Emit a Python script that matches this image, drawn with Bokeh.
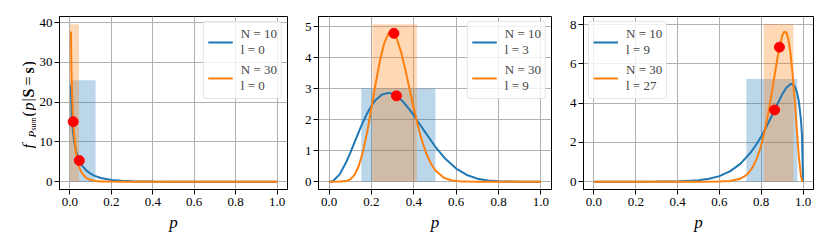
import math
from bokeh.plotting import figure
from bokeh.models import Range1d, FixedTicker, PrintfTickFormatter, Legend, LegendItem
from bokeh.core.properties import value
from bokeh.layouts import row
from bokeh.embed import file_html
from bokeh.resources import INLINE

BLUE = "#1f77b4"
ORANGE = "#ff7f0e"
FONT = "Liberation Serif"

# ---------------- data ----------------
x_ticks = [0.0, 0.2, 0.4, 0.6, 0.8, 1.0]
y_ticks = [[0, 10, 20, 30, 40], [0, 1, 2, 3, 4, 5], [0, 2, 4, 6, 8]]

legend_labels = [
    ["N = 10\nl = 0", "N = 30\nl = 0"],
    ["N = 10\nl = 3", "N = 30\nl = 9"],
    ["N = 10\nl = 9", "N = 30\nl = 27"],
]
legend_loc = ["top_right", "top_right", "top_left"]

# panel 1 (N=10,l=0 / N=30,l=0)
p1_blue_x = [0.005, 0.0075, 0.01, 0.015, 0.02, 0.03, 0.04, 0.05, 0.06, 0.08, 0.10, 0.12, 0.15, 0.20,
             0.25, 0.30, 0.35, 0.40, 0.50, 0.60, 0.70, 1.00]
p1_blue_y = [24.3, 19.35, 16.3, 12.7, 10.4, 7.69, 6.0, 4.84, 3.97, 2.78, 1.99, 1.45, 0.92, 0.43,
             0.20, 0.093, 0.041, 0.017, 0.0025, 0.0003, 0.0, 0.0]
p1_orange_x = [0.005, 0.0075, 0.01, 0.015, 0.02, 0.03, 0.04, 0.05, 0.06, 0.08, 0.10, 0.12, 0.15,
               0.20, 0.25, 0.30, 1.00]
p1_orange_y = [37.8, 28.6, 23.0, 16.1, 12.0, 7.18, 4.56, 2.98, 1.98, 0.90, 0.42, 0.19, 0.061,
               0.0086, 0.0011, 0.0001, 0.0]

# panel 2 (N=10,l=3 / N=30,l=9)
p2_blue_x = [0.0, 0.01, 0.02, 0.05, 0.08, 0.10, 0.12, 0.15, 0.18, 0.20, 0.22, 0.25, 0.28, 0.30,
             0.32, 0.35, 0.38, 0.40, 0.45, 0.50, 0.55, 0.60, 0.65, 0.70, 0.75, 0.80, 0.85, 0.90, 1.0]
p2_blue_y = [0.0, 0.0055, 0.029, 0.234, 0.614, 0.930, 1.268, 1.768, 2.208, 2.448, 2.635, 2.810,
             2.862, 2.831, 2.755, 2.572, 2.323, 2.134, 1.627, 1.140, 0.729, 0.421, 0.216, 0.096,
             0.035, 0.0096, 0.0017, 0.0002, 0.0]
p2_orange_x = [0.0, 0.05, 0.08, 0.10, 0.12, 0.14, 0.16, 0.18, 0.20, 0.22, 0.24, 0.26, 0.28, 0.29,
               0.30, 0.32, 0.34, 0.36, 0.38, 0.40, 0.42, 0.44, 0.46, 0.48, 0.50, 0.54, 0.58, 0.62,
               0.66, 0.70, 1.0]
p2_orange_y = [0.0, 0.0006, 0.017, 0.073, 0.217, 0.503, 0.967, 1.605, 2.369, 3.169, 3.898, 4.456,
               4.771, 4.826, 4.814, 4.599, 4.175, 3.611, 2.983, 2.355, 1.780, 1.287, 0.891, 0.590,
               0.374, 0.130, 0.037, 0.0084, 0.0015, 0.0002, 0.0]

# panel 3 (N=10,l=9 / N=30,l=27)
p3_blue_x = [0.0, 0.2, 0.3, 0.4, 0.5, 0.55, 0.6, 0.65, 0.7, 0.75, 0.775, 0.8, 0.825, 0.85, 0.88,
             0.9, 0.92, 0.94, 0.95, 0.96, 0.97, 0.98, 0.99, 0.995, 1.0]
p3_blue_y = [0.0, 0.00004, 0.001, 0.011, 0.067, 0.143, 0.282, 0.522, 0.907, 1.488, 1.866, 2.303,
             2.798, 3.340, 4.012, 4.433, 4.779, 4.969, 4.963, 4.852, 4.589, 4.088, 3.151, 2.326, 0.0]
p3_orange_x = [0.0, 0.5, 0.6, 0.65, 0.7, 0.72, 0.74, 0.76, 0.78, 0.80, 0.82, 0.84, 0.86, 0.88,
               0.90, 0.91, 0.92, 0.93, 0.94, 0.95, 0.96, 0.97, 0.98, 0.99, 0.995, 1.0]
p3_orange_y = [0.0, 0.0001, 0.0051, 0.031, 0.148, 0.263, 0.452, 0.750, 1.201, 1.850, 2.736, 3.860,
               5.156, 6.450, 7.417, 7.638, 7.602, 7.250, 6.548, 5.494, 4.151, 2.661, 1.267, 0.293,
               0.059, 0.0]

# shaded intervals: [left, right, top] for blue / orange
band_blue = [[0.0, 0.124, 25.5], [0.152, 0.502, 3.0], [0.729, 0.973, 5.23]]
band_orange = [[0.0, 0.044, 39.6], [0.204, 0.414, 5.07], [0.812, 0.954, 8.01]]

# red markers (mean and density there)
dots_x = [[0.0455, 0.0161], [0.318, 0.306], [0.864, 0.887]]
dots_y = [[5.31, 15.1], [2.765, 4.78], [3.65, 6.85]]

curves = [
    (p1_blue_x, p1_blue_y, p1_orange_x, p1_orange_y),
    (p2_blue_x, p2_blue_y, p2_orange_x, p2_orange_y),
    (p3_blue_x, p3_blue_y, p3_orange_x, p3_orange_y),
]

# ---------------- layout ----------------
LBL_W = 36
widths = [300 - LBL_W, 266, 256]
borders_l = [55 - LBL_W, 18, 15]
borders_r = [13, 15, 9]
B_TOP, B_BOT = 16, 45
H = 234

figs = []
for i in range(3):
    bx, by, ox, oy = curves[i]
    top = max(band_blue[i][2], band_orange[i][2])
    p = figure(width=widths[i], height=H, output_backend="svg", toolbar_location=None,
               x_range=Range1d(-0.05, 1.05), y_range=Range1d(-0.05 * top, 1.05 * top),
               min_border_left=borders_l[i], min_border_right=borders_r[i],
               min_border_top=B_TOP, min_border_bottom=B_BOT)
    p.background_fill_color = "white"
    p.border_fill_color = "white"
    p.outline_line_color = "black"
    p.outline_line_width = 1
    p.outline_line_alpha = 1

    for g in (p.xgrid, p.ygrid):
        g.grid_line_color = "#b0b0b0"
        g.grid_line_width = 1
        g.grid_line_alpha = 1

    p.xaxis.ticker = FixedTicker(ticks=x_ticks)
    p.xaxis.formatter = PrintfTickFormatter(format="%.1f")
    p.yaxis.ticker = FixedTicker(ticks=y_ticks[i])
    for ax in (p.xaxis, p.yaxis):
        ax.axis_line_color = "black"
        ax.major_tick_line_color = "black"
        ax.major_tick_out = 5
        ax.major_tick_in = 0
        ax.minor_tick_line_color = None
        ax.major_label_text_font = FONT
        ax.major_label_text_font_size = "13px"
        ax.major_label_text_color = "black"
        ax.major_label_standoff = 3
    p.yaxis.major_label_standoff = 2
    p.xaxis.axis_label = "p"
    p.xaxis.axis_label_text_font = FONT
    p.xaxis.axis_label_text_font_style = "italic"
    p.xaxis.axis_label_text_font_size = "17px"
    p.xaxis.axis_label_standoff = 4
    p.xaxis.axis_label_text_color = "black"

    p.quad(left=[band_blue[i][0]], right=[band_blue[i][1]], bottom=[0], top=[band_blue[i][2]],
           fill_color=BLUE, fill_alpha=0.3, line_color=None)
    p.quad(left=[band_orange[i][0]], right=[band_orange[i][1]], bottom=[0], top=[band_orange[i][2]],
           fill_color=ORANGE, fill_alpha=0.3, line_color=None)

    rb = p.line(bx, by, line_color=BLUE, line_width=2)
    ro = p.line(ox, oy, line_color=ORANGE, line_width=2)
    p.scatter(dots_x[i], dots_y[i], size=10, fill_color="red", line_color="red", marker="circle")

    leg = Legend(items=[LegendItem(label=legend_labels[i][0], renderers=[rb]),
                        LegendItem(label=legend_labels[i][1], renderers=[ro])],
                 location=legend_loc[i])
    leg.label_text_font = FONT
    leg.label_text_font_size = "13px"
    leg.label_text_line_height = 0.9
    leg.glyph_width = 25
    leg.glyph_height = 24
    leg.label_height = 24
    leg.label_standoff = 8
    leg.padding = 4
    leg.spacing = 4
    leg.margin = 5
    leg.border_line_color = "#cccccc"
    leg.border_line_width = 1
    leg.background_fill_alpha = 0.8
    try:
        leg.border_radius = 3
    except Exception:
        pass
    p.add_layout(leg)
    figs.append(p)

# ---- narrow strip holding the composed y-axis label f_{P_sum}(p|S = s) ----
# its frame lines up with the other frames (page rows B_TOP .. H-B_BOT); data y = H - page_y
lab = figure(width=LBL_W, height=H, output_backend="svg", toolbar_location=None,
             title=None, x_range=Range1d(0, LBL_W), y_range=Range1d(B_BOT, H - B_TOP),
             x_axis_type=None, y_axis_type=None,
             min_border_left=0, min_border_right=0, min_border_top=B_TOP, min_border_bottom=B_BOT)
lab.outline_line_color = None
lab.grid.visible = False
lab.background_fill_color = "white"
lab.border_fill_color = "white"
# (text, style, size, baseline px from left, start px from top)
ylabel_parts = [
    ("f", "italic", "16px", 27.5, 148),
    ("P", "italic", "11px", 31, 137),
    ("sum", "normal", "8px", 32.5, 130),
    ("(", "normal", "16px", 27.5, 116),
    ("p", "italic", "16px", 27.5, 110),
    ("|", "normal", "16px", 27.5, 101),
    ("S", "bold", "16px", 27.5, 97),
    ("=", "normal", "16px", 27.5, 85),
    ("s", "bold", "16px", 27.5, 73),
    (")", "normal", "16px", 27.5, 66),
]
for txt, style, size, bx_, sy_ in ylabel_parts:
    lab.text(x=[bx_], y=[H - sy_], text=[txt], angle=math.pi / 2,
             text_font=value(FONT), text_font_style=value(style), text_font_size=value(size),
             text_baseline=value("alphabetic"), text_align=value("left"), text_color="black")

layout = row(lab, *figs)
open("out.html", "w").write(file_html(layout, INLINE))
